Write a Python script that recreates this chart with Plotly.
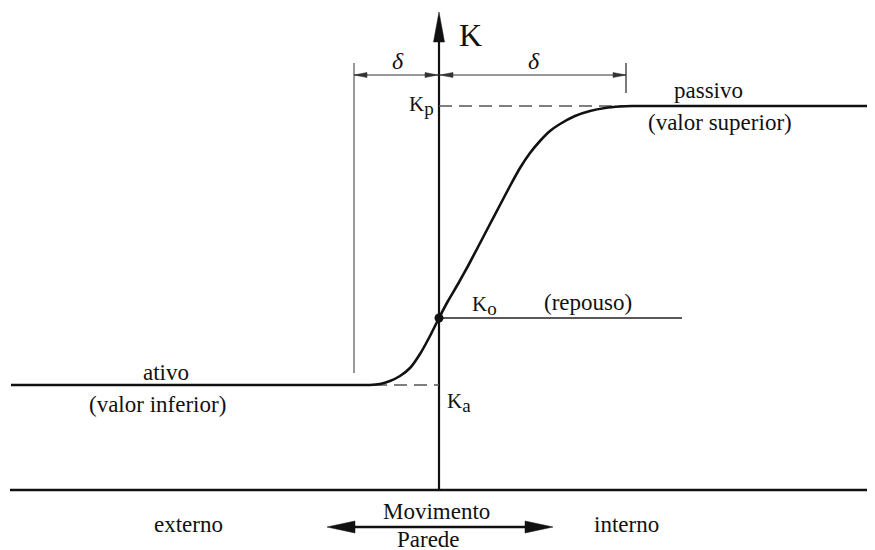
import plotly.graph_objects as go

# ---- data (x = wall movement, K = earth-pressure coefficient, arbitrary units) ----
K_a = 105
K_o = 172
K_p = 384
delta_ativo = -85      # movement needed to reach the active state
delta_passivo = 187    # movement needed to reach the passive state
x_min, x_max = -428, 444

curve_x = [-428, -84, -69, -59, -49, -39, -29, -19, -9, 0, 9, 19, 29, 39, 51, 61, 71,
           81, 91, 101, 111, 121, 136, 151, 166, 181, 193, 444]
curve_k = [105, 105, 105, 106, 109, 114, 122, 136, 154, 172, 189, 206, 224, 243, 266,
           285, 304, 322, 337, 349, 359, 366, 374, 379, 382, 383.5, 384, 384]

repouso_end = 243
axis_top = 478
dim_level = 415
ext_top = 427
ext_left_bottom = 117
ext_right_bottom = 397
wall_arrow_level = -37
wall_arrow_x = [-112, 114]

FONT = "Liberation Serif, Times New Roman, serif"
INK = "#111111"
GREY = "#555555"

fig = go.Figure()

def line(xs, ys, width, color=INK, dash=None):
    fig.add_trace(go.Scatter(x=xs, y=ys, mode="lines",
                             line=dict(width=width, color=color, dash=dash),
                             hoverinfo="skip", showlegend=False))

def head(tx, ty, ux, uy, length, half, color=INK):
    bx, by = tx - ux * length, ty - uy * length
    nx, ny = -uy, ux
    path = (f"M{tx},{ty} L{bx + nx * half},{by + ny * half} "
            f"L{bx - nx * half},{by - ny * half} Z")
    fig.add_shape(type="path", path=path, xref="x", yref="y",
                  fillcolor=color, line=dict(color=color, width=0.5))

# axes
line([x_min - 1, x_max], [0, 0], 2.6)
line([0, 0], [0, axis_top - 20], 2.2)
head(0, axis_top, 0, 1, 30, 5.5)

# helper lines
line([0, delta_passivo], [K_p, K_p], 1.3, GREY, "13px,7px")
line([delta_ativo, 0], [K_a, K_a], 1.3, GREY, "13px,7px")
line([0, repouso_end], [K_o, K_o], 1.3, "#222222")
line([delta_ativo, delta_ativo], [ext_left_bottom, ext_top], 1.2, GREY)
line([delta_passivo, delta_passivo], [ext_right_bottom, ext_top], 1.2, "#222222")

# dimension lines (delta)
line([delta_ativo, delta_passivo], [dim_level, dim_level], 1.2, "#333333")
head(delta_ativo, dim_level, -1, 0, 13, 2.5, "#333333")
head(-1, dim_level, 1, 0, 13, 2.5, "#333333")
head(1, dim_level, -1, 0, 13, 2.5, "#333333")
head(delta_passivo, dim_level, 1, 0, 13, 2.5, "#333333")

# main curve
fig.add_trace(go.Scatter(x=curve_x, y=curve_k, mode="lines",
                         line=dict(width=2.6, color=INK, shape="spline", smoothing=0.6),
                         hoverinfo="skip", showlegend=False))
fig.add_trace(go.Scatter(x=[0], y=[K_o], mode="markers",
                         marker=dict(size=9, color=INK), hoverinfo="skip", showlegend=False))

# wall movement arrow
line([wall_arrow_x[0] + 20, wall_arrow_x[1] - 20], [wall_arrow_level] * 2, 2.6)
head(wall_arrow_x[0], wall_arrow_level, -1, 0, 28, 6)
head(wall_arrow_x[1], wall_arrow_level, 1, 0, 28, 6)

def text(x, y, s, size=23, xanchor="center"):
    fig.add_annotation(x=x, y=y, text=s, showarrow=False, xref="x", yref="y",
                       xanchor=xanchor, yanchor="middle",
                       font=dict(family=FONT, size=size, color=INK))

def ksub(letter):
    return f"K<sub><span style='font-size:19px'>{letter}</span></sub>"

text(18, 455, "K", size=32, xanchor="left")
text(-41, 429, "<i>δ</i>", size=24)
text(95, 429, "<i>δ</i>", size=24)
text(-3, 385, ksub("p"), size=21, xanchor="right")
text(31, 185, ksub("o"), size=21, xanchor="left")
text(6, 88, ksub("a"), size=21, xanchor="left")
text(149, 188, "(repouso)")
text(269, 400, "passivo")
text(281, 368, "(valor superior)")
text(-273, 118, "ativo")
text(-282, 86, "(valor inferior)")
text(-251, -34, "externo")
text(187, -34, "interno")
text(-3, -21, "Movimento")
text(-11, -49, "Parede")

fig.update_layout(width=875, height=550, margin=dict(l=0, r=0, t=0, b=0),
                  plot_bgcolor="white", paper_bgcolor="white", showlegend=False)
fig.update_xaxes(range=[-431, 444], visible=False, fixedrange=True)
fig.update_yaxes(range=[-68, 482], visible=False, fixedrange=True)

fig.write_html("out.html")
